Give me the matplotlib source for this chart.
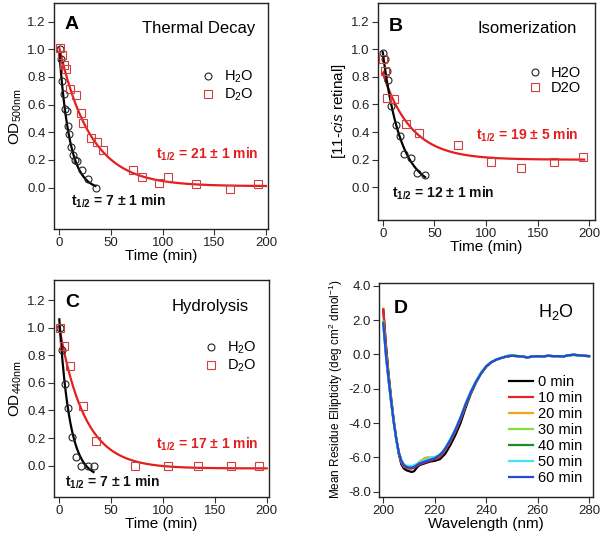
import numpy as np
import matplotlib
matplotlib.use("Agg")
import matplotlib.pyplot as plt
from matplotlib.lines import Line2D

plt.rcParams['font.family'] = ['Liberation Sans', 'DejaVu Sans']
plt.rcParams['mathtext.fontset'] = 'custom'
plt.rcParams['mathtext.rm'] = 'Liberation Sans'
plt.rcParams['mathtext.it'] = 'Liberation Sans:italic'
plt.rcParams['mathtext.bf'] = 'Liberation Sans:bold'

# ---------------- data ----------------
# Panel A: thermal decay
a_h2o_t = [0.5, 1.5, 3, 4.5, 5.8, 7.5, 8.8, 9.7, 11.5, 13, 15.5, 17.5, 22, 28, 35.5]
a_h2o_y = [1.0, 0.93, 0.77, 0.68, 0.57, 0.555, 0.445, 0.385, 0.29, 0.234, 0.2, 0.19, 0.13, 0.065, 0.0]
a_d2o_t = [0.6, 2.6, 4.8, 6.8, 10.3, 15.8, 21, 23.2, 30.6, 36, 42.6, 71.6, 79.7, 96.8, 105, 132, 165, 192]
a_d2o_y = [1.01, 0.96, 0.89, 0.86, 0.71, 0.67, 0.54, 0.47, 0.36, 0.33, 0.27, 0.13, 0.077, 0.03, 0.077, 0.024, -0.007, 0.024]
a_fit_h2o = dict(amp=1.0, half=7.0, off=-0.02, tmax=35)
a_fit_d2o = dict(amp=1.0, half=21.0, off=0.01, tmax=200)

# Panel B: isomerization
b_h2o_t = [0.5, 2, 4, 5.5, 8.5, 12.5, 17, 21, 27.5, 33, 41]
b_h2o_y = [0.97, 0.93, 0.84, 0.78, 0.59, 0.45, 0.37, 0.24, 0.21, 0.1, 0.09]
b_d2o_t = [0, 2.3, 3.9, 11, 22.6, 35, 73, 104.5, 134, 166, 193.5]
b_d2o_y = [0.93, 0.84, 0.645, 0.64, 0.456, 0.396, 0.307, 0.18, 0.14, 0.186, 0.22]
b_fit_h2o = dict(amp=1.0, half=12.0, off=-0.02, tmax=41)
b_fit_d2o = dict(amp=0.63, half=19.0, off=0.2, tmax=195)

# Panel C: hydrolysis
c_h2o_t = [0.5, 3, 5.5, 8.5, 12, 16, 21, 27.5, 33]
c_h2o_y = [1.0, 0.835, 0.59, 0.42, 0.21, 0.065, 0.0, 0.0, 0.0]
c_d2o_t = [0.6, 4.5, 10.5, 23, 35, 73, 104.5, 134, 165.5, 193]
c_d2o_y = [1.0, 0.87, 0.72, 0.43, 0.176, 0.0, 0.0, 0.0, 0.0, 0.0]
c_fit_h2o = dict(amp=1.15, half=7.0, off=-0.09, tmax=33)
c_fit_d2o = dict(amp=1.02, half=17.0, off=-0.02, tmax=200)

# Panel D: CD spectra
wl = [200, 201, 202, 203, 204, 205, 206, 207, 208, 209, 210, 211, 212, 213, 214, 215,
      216, 217, 218, 219, 220, 221, 222, 223, 224, 226, 228, 230, 232, 234, 236, 238,
      240, 242, 244, 246, 248, 250, 252, 254, 256, 258, 260, 262, 264, 266, 268, 270,
      272, 274, 276, 278, 280]
cd_labels = ['0 min', '10 min', '20 min', '30 min', '40 min', '50 min', '60 min']
cd_colors = ['#000000', '#e8202a', '#f2a31b', '#86e03a', '#1e8c28', '#3fe6f2', '#2448d8']
cd_0 = [2.55, 0.6, -1.1, -2.5, -3.8, -4.9, -5.8, -6.4, -6.65, -6.75, -6.8, -6.85, -6.8, -6.6,
        -6.45, -6.4, -6.35, -6.3, -6.25, -6.22, -6.2, -6.15, -6.1, -5.95, -5.8, -5.3, -4.7,
        -4.0, -3.1, -2.3, -1.65, -1.1, -0.72, -0.45, -0.3, -0.2, -0.12, -0.08, -0.1, -0.12,
        -0.17, -0.12, -0.1, -0.12, -0.08, -0.1, -0.1, -0.12, -0.05, -0.03, -0.05, -0.08, -0.1]
cd_10 = [2.65, 0.5, -1.2, -2.6, -3.85, -4.9, -5.75, -6.3, -6.55, -6.62, -6.65, -6.65, -6.6, -6.5,
         -6.4, -6.35, -6.3, -6.25, -6.2, -6.15, -6.1, -6.05, -5.95, -5.8, -5.6, -5.1, -4.5,
         -3.8, -3.0, -2.25, -1.6, -1.1, -0.7, -0.45, -0.3, -0.2, -0.12, -0.07, -0.1, -0.12,
         -0.18, -0.12, -0.1, -0.12, -0.08, -0.1, -0.1, -0.12, -0.05, -0.02, -0.05, -0.08, -0.1]
cd_20 = [1.9, 0.1, -1.4, -2.7, -3.9, -4.9, -5.7, -6.2, -6.45, -6.52, -6.55, -6.55, -6.5, -6.4,
         -6.25, -6.15, -6.05, -6.0, -6.0, -6.0, -6.0, -5.95, -5.85, -5.7, -5.5, -5.0, -4.4,
         -3.7, -2.9, -2.2, -1.6, -1.1, -0.7, -0.45, -0.3, -0.2, -0.1, -0.05, -0.1, -0.12,
         -0.18, -0.12, -0.1, -0.12, -0.08, -0.1, -0.1, -0.12, -0.05, -0.02, -0.05, -0.08, -0.1]
cd_30 = [1.9, 0.05, -1.4, -2.7, -3.9, -4.9, -5.7, -6.2, -6.45, -6.52, -6.55, -6.55, -6.5, -6.42,
         -6.3, -6.22, -6.15, -6.1, -6.05, -6.02, -6.0, -5.95, -5.85, -5.7, -5.5, -5.0, -4.4,
         -3.7, -2.9, -2.2, -1.6, -1.1, -0.7, -0.45, -0.3, -0.2, -0.1, -0.02, -0.08, -0.12,
         -0.18, -0.12, -0.1, -0.12, -0.08, -0.1, -0.1, -0.12, -0.05, -0.02, -0.05, -0.08, -0.1]
cd_40 = [1.85, 0.0, -1.4, -2.7, -3.9, -4.9, -5.7, -6.2, -6.45, -6.55, -6.58, -6.58, -6.52, -6.45,
         -6.35, -6.28, -6.2, -6.15, -6.1, -6.05, -6.02, -5.95, -5.85, -5.7, -5.5, -5.0, -4.4,
         -3.7, -2.9, -2.2, -1.6, -1.1, -0.7, -0.45, -0.3, -0.2, -0.1, -0.05, -0.1, -0.12,
         -0.18, -0.12, -0.1, -0.12, -0.08, -0.1, -0.1, -0.12, -0.05, -0.02, -0.05, -0.08, -0.1]
cd_50 = [1.7, -0.1, -1.5, -2.8, -3.95, -4.95, -5.7, -6.15, -6.4, -6.48, -6.5, -6.5, -6.45, -6.38,
         -6.3, -6.22, -6.15, -6.1, -6.05, -6.0, -5.98, -5.92, -5.82, -5.68, -5.48, -4.95, -4.35,
         -3.65, -2.85, -2.15, -1.55, -1.05, -0.68, -0.43, -0.3, -0.2, -0.1, -0.06, -0.1, -0.12,
         -0.18, -0.12, -0.1, -0.12, -0.08, -0.1, -0.1, -0.12, -0.05, -0.02, -0.05, -0.08, -0.1]
cd_60 = [1.8, 0.0, -1.4, -2.7, -3.9, -4.9, -5.7, -6.2, -6.45, -6.55, -6.6, -6.6, -6.55, -6.45,
         -6.35, -6.3, -6.25, -6.2, -6.15, -6.1, -6.05, -5.95, -5.85, -5.7, -5.5, -5.0, -4.4,
         -3.7, -2.9, -2.2, -1.6, -1.1, -0.7, -0.45, -0.3, -0.2, -0.12, -0.08, -0.1, -0.12,
         -0.18, -0.12, -0.1, -0.12, -0.08, -0.1, -0.1, -0.12, -0.05, -0.02, -0.05, -0.08, -0.1]
cd_series = [cd_0, cd_10, cd_20, cd_30, cd_40, cd_50, cd_60]

# ---------------- style ----------------
RED = '#e41e1e'
RED_M = '#d04040'
TICK_FS = 9.5
LAB_FS = 11
TITLE_FS = 12
LET_FS = 14
ANN_FS = 10

fig = plt.figure(figsize=(6.01, 5.44), dpi=100)


def fmt_axes(ax):
    ax.tick_params(direction='out', length=4, width=0.8, labelsize=TICK_FS,
                   top=False, right=False, pad=2, colors='#333333', labelcolor='#222222')
    for s in ax.spines.values():
        s.set_linewidth(1.0)
        s.set_color('#222222')


def exp_fit(p):
    t = np.linspace(0, p['tmax'], 300)
    return t, p['amp'] * 2.0 ** (-t / p['half']) + p['off']


def kinetic(ax, h_t, h_y, d_t, d_y, fh, fd, xlim, ylim, ylabel, letter, title,
            title_xy, leg_anchor, leg_labels, ann_red, ann_black):
    fmt_axes(ax)
    t, y = exp_fit(fd)
    ax.plot(t, y, color=RED, lw=1.6, zorder=2)
    t, y = exp_fit(fh)
    ax.plot(t, y, color='black', lw=1.6, zorder=2)
    ax.plot(h_t, h_y, 'o', mfc='none', mec='#222222', ms=5, mew=0.8, zorder=3)
    ax.plot(d_t, d_y, 's', mfc='none', mec=RED_M, ms=5.5, mew=0.8, zorder=3)
    ax.set_xlim(*xlim)
    ax.set_ylim(*ylim)
    ax.set_xticks([0, 50, 100, 150, 200])
    ax.set_yticks([0.0, 0.2, 0.4, 0.6, 0.8, 1.0, 1.2])
    ax.set_yticklabels(['0.0', '0.2', '0.4', '0.6', '0.8', '1.0', '1.2'])
    ax.set_xlabel('Time (min)', fontsize=LAB_FS, labelpad=0)
    ax.set_ylabel(ylabel, fontsize=LAB_FS, labelpad=2)
    ax.text(0.05, title_xy[2], letter, transform=ax.transAxes, fontsize=LET_FS,
            fontweight='bold', ha='left', va='baseline')
    ax.text(title_xy[0], title_xy[1], title, transform=ax.transAxes, fontsize=TITLE_FS,
            ha='right', va='baseline')
    hs = [Line2D([], [], ls='none', marker='o', mfc='none', mec='#222222', ms=5, mew=0.8),
          Line2D([], [], ls='none', marker='s', mfc='none', mec=RED_M, ms=5.5, mew=0.8)]
    ax.legend(hs, leg_labels, loc='center left', bbox_to_anchor=leg_anchor, frameon=False,
              fontsize=10.5, handlelength=0.8, handletextpad=0.7, labelspacing=0.1,
              borderpad=0, borderaxespad=0)
    ax.text(ann_red[0], ann_red[1], r'$\mathbf{t}_{\mathbf{1/2}}$ = ' + ann_red[2],
            color=RED, fontsize=ANN_FS, fontweight='bold', ha='left', va='baseline')
    ax.text(ann_black[0], ann_black[1], r'$\mathbf{t}_{\mathbf{1/2}}$ = ' + ann_black[2],
            color='#111111', fontsize=ANN_FS, fontweight='bold', ha='left', va='baseline')


axA = fig.add_axes([0.0899, 0.579, 0.3561, 0.4155])
kinetic(axA, a_h2o_t, a_h2o_y, a_d2o_t, a_d2o_y, a_fit_h2o, a_fit_d2o,
        (-5.1, 202), (-0.30, 1.335), r'OD$_{\mathrm{500nm}}$', 'A', 'Thermal Decay',
        (0.94, 0.869, 0.884), (0.69, 0.633), [r'H$_2$O', r'D$_2$O'],
        (94, 0.21, '21 ± 1 min'), (11, -0.128, '7 ± 1 min'))

axB = fig.add_axes([0.6285, 0.5956, 0.3615, 0.3989])
kinetic(axB, b_h2o_t, b_h2o_y, b_d2o_t, b_d2o_y, b_fit_h2o, b_fit_d2o,
        (-4.8, 205.4), (-0.237, 1.335), r'[11-$\it{cis}$ retinal]', 'B', 'Isomerization',
        (0.918, 0.862, 0.87), (0.695, 0.643), ['H2O', 'D2O'],
        (90.3, 0.343, '19 ± 5 min'), (8.7, -0.072, '12 ± 1 min'))

axC = fig.add_axes([0.0899, 0.0864, 0.3577, 0.3989])
kinetic(axC, c_h2o_t, c_h2o_y, c_d2o_t, c_d2o_y, c_fit_h2o, c_fit_d2o,
        (-5.1, 202.2), (-0.227, 1.345), r'OD$_{\mathrm{440nm}}$', 'C', 'Hydrolysis',
        (0.904, 0.859, 0.877), (0.705, 0.645), [r'H$_2$O', r'D$_2$O'],
        (93.2, 0.126, '17 ± 1 min'), (5.5, -0.152, '7 ± 1 min'))

axD = fig.add_axes([0.631, 0.0869, 0.356, 0.3929])
fmt_axes(axD)
for ser, lab, col in zip(cd_series, cd_labels, cd_colors):
    axD.plot(wl, ser, color=col, lw=1.6, label=lab)
axD.set_xlim(198.4, 281.6)
axD.set_ylim(-8.29, 4.16)
axD.set_xticks([200, 220, 240, 260, 280])
axD.set_yticks([-8, -6, -4, -2, 0, 2, 4])
axD.set_yticklabels(['-8.0', '-6.0', '-4.0', '-2.0', '0.0', '2.0', '4.0'])
axD.set_xlabel('Wavelength (nm)', fontsize=LAB_FS, labelpad=0)
axD.set_ylabel(r'Mean Residue Ellipticity (deg cm$^2$ dmol$^{-1}$)', fontsize=8.5, labelpad=2)
axD.text(0.07, 0.861, 'D', transform=axD.transAxes, fontsize=LET_FS, fontweight='bold',
         ha='left', va='baseline')
axD.text(0.91, 0.842, r'H$_2$O', transform=axD.transAxes, fontsize=13,
         ha='right', va='baseline')
axD.legend(loc='lower left', bbox_to_anchor=(0.607, 0.055), frameon=False, fontsize=10.5,
           handlelength=1.65, handletextpad=0.35, labelspacing=0.14, borderpad=0,
           borderaxespad=0)

fig.savefig('out.png', dpi=100)
